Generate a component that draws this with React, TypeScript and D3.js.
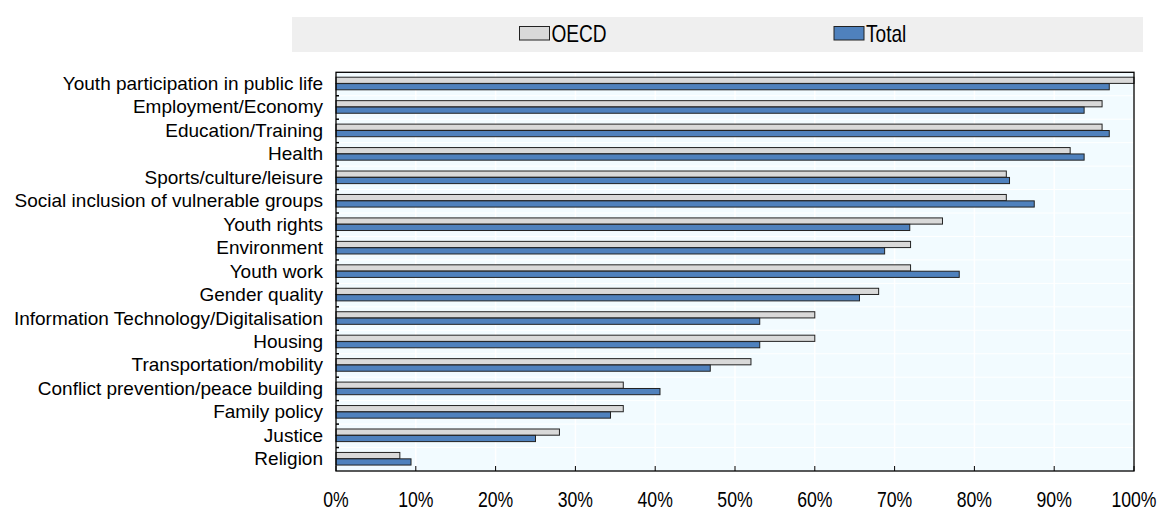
import React from "react";
import * as d3 from "d3";

const categories = [
  "Youth participation in public life",
  "Employment/Economy",
  "Education/Training",
  "Health",
  "Sports/culture/leisure",
  "Social inclusion of vulnerable groups",
  "Youth rights",
  "Environment",
  "Youth work",
  "Gender quality",
  "Information Technology/Digitalisation",
  "Housing",
  "Transportation/mobility",
  "Conflict prevention/peace building",
  "Family policy",
  "Justice",
  "Religion",
];

const oecdValues = [100, 96, 96, 92, 84, 84, 76, 72, 72, 68, 60, 60, 52, 36, 36, 28, 8];
const totalValues = [96.9, 93.75, 96.9, 93.75, 84.4, 87.5, 71.9, 68.75, 78.1, 65.6, 53.1, 53.1, 46.9, 40.6, 34.4, 25, 9.4];
const xTicks = [0, 10, 20, 30, 40, 50, 60, 70, 80, 90, 100];
const seriesNames = ["OECD", "Total"];

const W = 1161;
const H = 511;
const FONT = "'Liberation Sans', Arial, sans-serif";

const sx = (x0: number, k: number) => `translate(${x0},0) scale(${k},1) translate(${-x0},0)`;

export default function App() {
  const left = 336, right = 1134, top = 72.3, bottom = 471;
  const x = d3.scaleLinear().domain([0, 100]).range([left, right]);
  const y = d3.scaleBand<string>().domain(categories).range([top, bottom]).paddingInner(0).paddingOuter(0);
  const bw = y.bandwidth();
  const barH = 6.2;
  const colors = ["#d9d9d9", "#4f81bd"];

  return (
    <svg width={W} height={H} style={{ position: "absolute", left: 0, top: 0, background: "#fff" }} fontFamily={FONT}>
      {/* legend */}
      <rect x={292} y={17} width={851} height={35} fill="#efefef" />
      {seriesNames.map((s, i) => {
        const lx = i === 0 ? 519.5 : 834;
        return (
          <g key={s}>
            <rect x={lx} y={26.5} width={30} height={13.5} fill={colors[i]} stroke="#222" strokeWidth={1} />
            <text x={lx + 32} y={42} fontSize={23} fill="#000" transform={sx(lx + 32, 0.83)}>{s}</text>
          </g>
        );
      })}
      {/* plot background */}
      <rect x={left} y={top} width={right - left} height={bottom - top} fill="#f2fbff" />
      {xTicks.map((t) => (
        <line key={"g" + t} x1={x(t)} x2={x(t)} y1={top} y2={bottom} stroke="#fff" strokeWidth={1.5} />
      ))}
      {categories.map((c, i) => (
        <line key={"h" + i} x1={left} x2={right} y1={y(c)!} y2={y(c)!} stroke="#fff" strokeWidth={1} />
      ))}
      {/* bars */}
      {categories.map((c, i) => {
        const b = y(c)!;
        return (
          <g key={c}>
            <rect x={x(0)} y={b + 4.9} width={x(oecdValues[i]) - x(0)} height={barH} fill={colors[0]} stroke="#222" strokeWidth={1} />
            <rect x={x(0)} y={b + 11.3} width={x(totalValues[i]) - x(0)} height={barH} fill={colors[1]} stroke="#222" strokeWidth={1} />
          </g>
        );
      })}
      {/* frame */}
      <rect x={left} y={top} width={right - left} height={bottom - top} fill="none" stroke="#000" strokeWidth={1.3} />
      {/* left tick marks at category boundaries */}
      {categories.slice(1).map((c) => (
        <line key={"lt" + c} x1={left} x2={left + 3} y1={y(c)!} y2={y(c)!} stroke="#000" strokeWidth={1.5} />
      ))}
      {/* bottom ticks */}
      {xTicks.map((t) => (
        <line key={"bt" + t} x1={x(t)} x2={x(t)} y1={bottom} y2={bottom - 5} stroke="#000" strokeWidth={1} />
      ))}
      {xTicks.map((t) => (
        <text key={"tl" + t} x={x(t)} y={507.5} textAnchor="middle" fontSize={21.5} fill="#000"
          transform={sx(x(t), 0.82)}>{t + "%"}</text>
      ))}
      {/* category labels */}
      {categories.map((c) => (
        <text key={"cl" + c} x={323} y={y(c)! + bw / 2 + 6} textAnchor="end" fontSize={19} fill="#000">{c}</text>
      ))}
    </svg>
  );
}
